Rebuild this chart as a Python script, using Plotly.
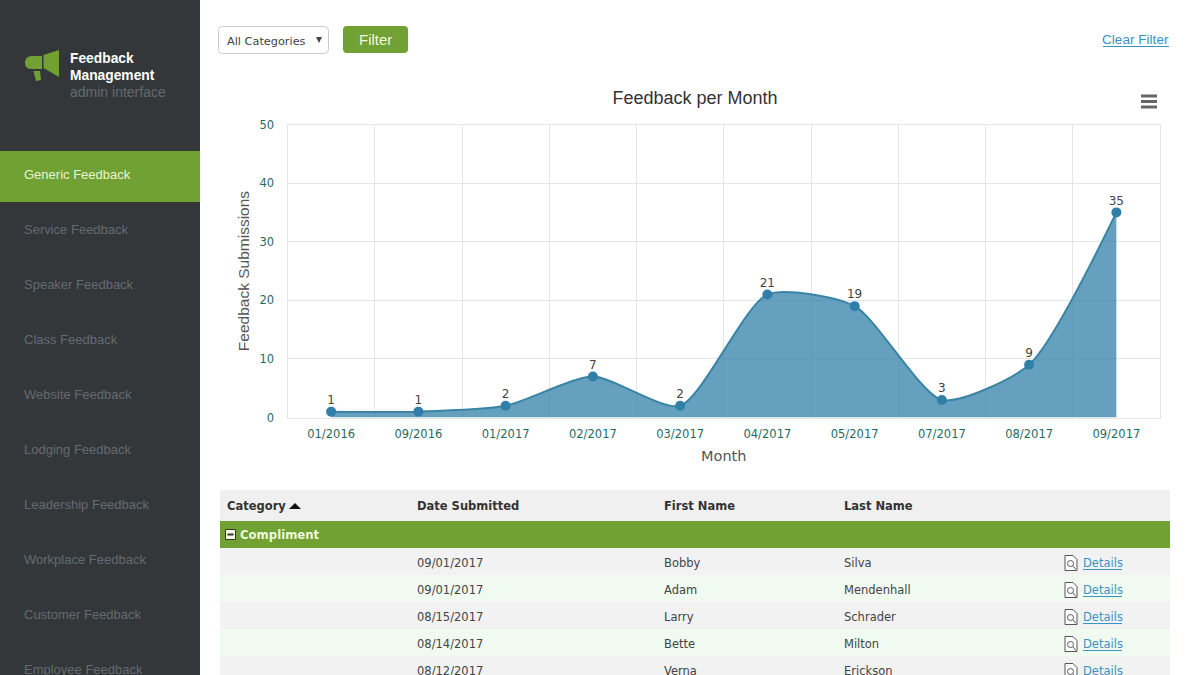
import plotly.graph_objects as go

# chart data
months = ['01/2016', '09/2016', '01/2017', '02/2017', '03/2017',
          '04/2017', '05/2017', '07/2017', '08/2017', '09/2017']
submissions = [1, 1, 2, 7, 2, 21, 19, 3, 9, 35]
y_ticks = [0, 10, 20, 30, 40, 50]

# page text
menu_items = ['Generic Feedback', 'Service Feedback', 'Speaker Feedback', 'Class Feedback',
              'Website Feedback', 'Lodging Feedback', 'Leadership Feedback',
              'Workplace Feedback', 'Customer Feedback', 'Employee Feedback']
table_headers = ['Category', 'Date Submitted', 'First Name', 'Last Name']
row_dates = ['09/01/2017', '09/01/2017', '08/15/2017', '08/14/2017', '08/12/2017']
row_first = ['Bobby', 'Adam', 'Larry', 'Bette', 'Verna']
row_last = ['Silva', 'Mendenhall', 'Schrader', 'Milton', 'Erickson']

W, H = 1200, 675
GREEN = '#70a132'
SIDE = '#33373a'
MUTED = '#646b70'
LINK = '#3a94c4'
TEXT = '#444444'
TICK = '#1f6b63'
ARIAL = 'Liberation Sans'
VERDANA = 'DejaVu Sans'


# the page furniture is placed in pixels, so convert to paper coordinates
def px(x):
    return x / W


def py(y):
    return 1 - y / H


def rect(x0, y0, x1, y1, fill, line=None):
    return dict(type='rect', xref='paper', yref='paper', x0=px(x0), y0=py(y0), x1=px(x1), y1=py(y1),
                fillcolor=fill, line=dict(width=1 if line else 0, color=line or fill))


def seg(x0, y0, x1, y1, color, width=1):
    return dict(type='line', xref='paper', yref='paper', x0=px(x0), y0=py(y0), x1=px(x1), y1=py(y1),
                line=dict(color=color, width=width))


def path(cmds, fill=None, line=None, width=1):
    # cmds like [('M', 1, 2), ('L', 3, 4), ('Q', 1, 1, 2, 2), ('Z',)]
    parts = []
    for c in cmds:
        nums = []
        for i, v in enumerate(c[1:]):
            nums.append(str(px(v) if i % 2 == 0 else py(v)))
        parts.append(c[0] + ' ' + ' '.join(nums))
    return dict(type='path', xref='paper', yref='paper', path=' '.join(parts),
                fillcolor=fill or 'rgba(0,0,0,0)', line=dict(width=width if line else 0, color=line or 'rgba(0,0,0,0)'))


def rounded(x0, y0, x1, y1, r, fill=None, line=None):
    return path([('M', x0 + r, y0), ('L', x1 - r, y0), ('Q', x1, y0, x1, y0 + r),
                 ('L', x1, y1 - r), ('Q', x1, y1, x1 - r, y1),
                 ('L', x0 + r, y1), ('Q', x0, y1, x0, y1 - r),
                 ('L', x0, y0 + r), ('Q', x0, y0, x0 + r, y0), ('Z',)], fill, line)


def label(x, y, text, size, color, family=VERDANA, anchor='left'):
    return dict(xref='paper', yref='paper', x=px(x), y=py(y), text=text, showarrow=False,
                xanchor=anchor, yanchor='middle', borderpad=0, borderwidth=0,
                font=dict(size=size, color=color, family=family))


shapes = []
notes = []

# sidebar
shapes.append(rect(0, 0, 200, H, SIDE))
shapes.append(rect(0, 151, 200, 202, GREEN))
shapes.append(path([('M', 43.5, 55), ('L', 59, 50), ('L', 59, 77), ('L', 43.5, 68), ('Z',)], GREEN))
shapes.append(path([('M', 42, 56), ('L', 32, 56), ('Q', 25, 56, 25, 63), ('Q', 25, 69, 32, 69),
                    ('L', 42, 69), ('Z',)], GREEN))
shapes.append(path([('M', 33.5, 71), ('L', 40, 71), ('L', 41, 80), ('L', 36, 81), ('Z',)], GREEN))
notes.append(label(70, 58, '<b>Feedback</b>', 13.8, '#ffffff', ARIAL))
notes.append(label(70, 75, '<b>Management</b>', 13.8, '#ffffff', ARIAL))
notes.append(label(70, 92, 'admin interface', 14, MUTED, ARIAL))
for i, item in enumerate(menu_items):
    y = 174 if i == 0 else 229 + 55 * (i - 1)
    notes.append(label(24, y, item, 13, '#eaf5d0' if i == 0 else MUTED, ARIAL))

# filter bar
shapes.append(rounded(218.5, 26.5, 328.5, 53.5, 4, '#ffffff', '#cccccc'))
notes.append(label(227, 41, 'All Categories', 11.3, TEXT))
shapes.append(path([('M', 316, 37), ('L', 322, 37), ('L', 319, 43), ('Z',)], '#444444'))
shapes.append(rounded(343, 26, 408, 53, 4, GREEN))
notes.append(label(375.5, 39.5, 'Filter', 15, '#f0f8e0', ARIAL, 'center'))
notes.append(label(1169, 39, 'Clear Filter', 13.6, LINK, ARIAL, 'right'))
shapes.append(seg(1103, 46.5, 1169, 46.5, LINK))

# hamburger button
for y in [96, 101.5, 107]:
    shapes.append(seg(1141, y, 1157, y, '#666666', 3))

# table
shapes.append(rect(220, 490, 1170, 521, '#f0f0f0'))
shapes.append(rect(220, 521, 1170, 548, GREEN))
header_x = [227, 417, 664, 844]
for x, head in zip(header_x, table_headers):
    notes.append(label(x, 505.5, '<b>' + head + '</b>', 11.5, '#333333'))
shapes.append(path([('M', 289, 509), ('L', 295, 503), ('L', 301, 509), ('Z',)], '#111111'))
shapes.append(rect(225.5, 529.5, 235.5, 539.5, '#f4f8ec', '#2f3a20'))
shapes.append(seg(227.5, 534.5, 233.5, 534.5, '#2f3a20', 2))
notes.append(label(240, 534.5, '<b>Compliment</b>', 11.7, '#eef8dc'))

for i, (d, first, last) in enumerate(zip(row_dates, row_first, row_last)):
    top = 548 + 27 * i
    mid = top + 14.5
    shapes.append(rect(220, top, 1170, top + 27, '#f2f2f2' if i % 2 == 0 else '#f0faf0'))
    notes.append(label(417, mid, d, 11.5, TEXT))
    notes.append(label(664, mid, first, 11.5, TEXT))
    notes.append(label(844, mid, last, 11.5, TEXT))
    # details icon, a page with a magnifier
    shapes.append(path([('M', 1065, mid - 7), ('L', 1073, mid - 7), ('L', 1077, mid - 3), ('L', 1077, mid + 8),
                        ('L', 1065, mid + 8), ('Z',)], '#ffffff', '#555555'))
    shapes.append(dict(type='circle', xref='paper', yref='paper', x0=px(1067.5), x1=px(1073.5),
                       y0=py(mid + 4), y1=py(mid - 2), line=dict(color='#555555', width=1)))
    shapes.append(seg(1073, mid + 3.5, 1076, mid + 7, '#555555'))
    notes.append(label(1083, mid, 'Details', 11.5, LINK))
    shapes.append(seg(1083, mid + 7, 1122, mid + 7, LINK))

fig = go.Figure()

fig.add_trace(go.Scatter(
    x=months, y=submissions,
    mode='lines+markers',
    fill='tozeroy', fillcolor='rgba(42,125,165,0.72)',
    line=dict(color='#3a84a6', width=2, shape='spline', smoothing=0.65),
    marker=dict(color='#2f7fa8', size=10),
    cliponaxis=False, hoverinfo='x+y', showlegend=False
))

# data labels on their own trace, the small clear marker sets how close they sit
fig.add_trace(go.Scatter(
    x=months, y=submissions,
    mode='markers+text',
    marker=dict(color='rgba(0,0,0,0)', size=6),
    text=submissions, textposition='top center',
    textfont=dict(size=12, color='#444444', family=VERDANA),
    cliponaxis=False, hoverinfo='skip', showlegend=False
))

fig.update_layout(
    width=W, height=H,
    margin=dict(l=0, r=0, t=0, b=0, autoexpand=False),
    paper_bgcolor='#ffffff', plot_bgcolor='#ffffff',
    title=dict(text='Feedback per Month', x=695 / W, xanchor='center', y=py(98), yanchor='middle',
               font=dict(size=18, color='#333333', family=ARIAL)),
    shapes=shapes, annotations=notes,
    xaxis=dict(
        domain=[px(287.5), px(1160)], type='category', categoryorder='array', categoryarray=months,
        tickson='boundaries', ticks='', showgrid=True, gridcolor='#e6e6e6', showline=True,
        linecolor='#e6e6e6', mirror=True, zeroline=False, range=[-0.5, 9.5], ticklabelstandoff=6,
        tickfont=dict(size=11.5, color=TICK, family=VERDANA),
        title=dict(text='Month', standoff=10, font=dict(size=14.5, color='#555555', family=VERDANA)),
    ),
    yaxis=dict(
        domain=[py(417.5), py(124.5)], range=[0, 50], tickvals=y_ticks, showgrid=True, gridcolor='#e6e6e6',
        showline=True, linecolor='#e6e6e6', mirror=True, zeroline=False, ticks='', ticklabelstandoff=10,
        tickfont=dict(size=11.5, color=TICK, family=VERDANA),
        title=dict(text='Feedback Submissions', standoff=6, font=dict(size=15.5, color='#555555', family=ARIAL)),
    ),
)

fig.write_html('out.html', config=dict(displayModeBar=False),
               post_script="document.body.style.margin='0';document.body.style.overflow='hidden';")
